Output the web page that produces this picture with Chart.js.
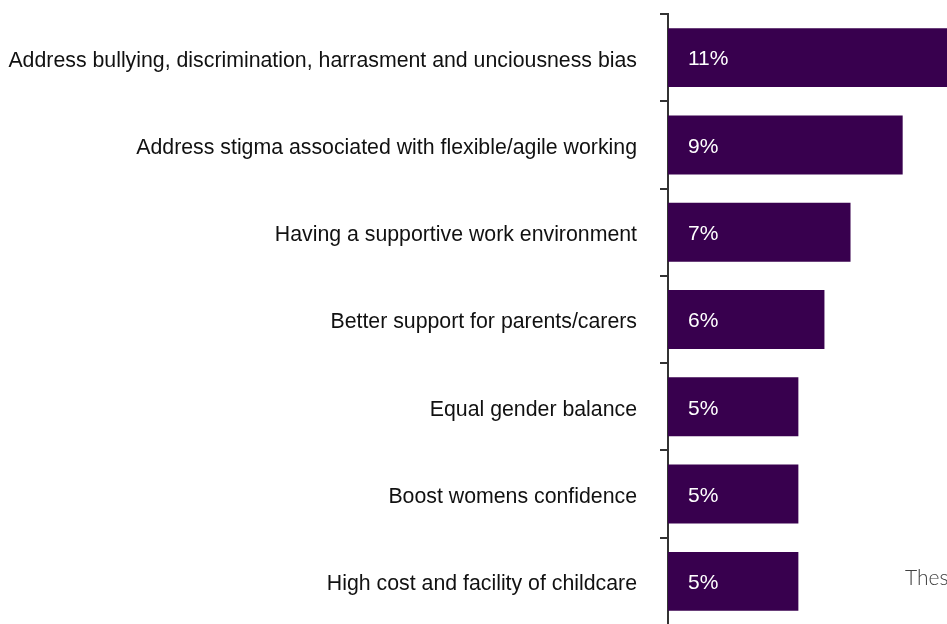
<!DOCTYPE html>
<html>
<head>
<meta charset="utf-8">
<script src="https://cdn.jsdelivr.net/npm/chart.js@4/dist/chart.umd.min.js"></script>
<style>
  html, body { margin: 0; padding: 0; background: #fff; overflow: hidden; }
  .wrap { position: relative; width: 947px; height: 624px; overflow: hidden; }
  #chart { position: absolute; left: 0; top: 0; }
  .note {
    position: absolute; left: 905px; top: 564px; white-space: nowrap;
    font-family: Lato, "Open Sans", sans-serif; font-weight: 300;
    font-size: 21px; color: #404040;
  }
</style>
</head>
<body>
<div class="wrap">
  <canvas id="chart" width="947" height="640"></canvas>
  <div class="note" id="note"></div>
</div>
<script>
// Top measures mentioned, share of responses (%)
const categories = [
    'Address bullying, discrimination, harrasment and unciousness bias',
    'Address stigma associated with flexible/agile working',
    'Having a supportive work environment',
    'Better support for parents/carers',
    'Equal gender balance',
    'Boost womens confidence',
    'High cost and facility of childcare'
];
const shares = [11, 9, 7, 6, 5, 5, 5];
const noteText = 'These';

const BAR_COLOR = '#38004e';
const AXIS_COLOR = '#333333';
const FONT = '"Liberation Sans", Arial, sans-serif';

document.getElementById('note').textContent = noteText;

// white percentage text just inside the start of each bar
const valueLabels = {
    id: 'valueLabels',
    afterDatasetsDraw(chart) {
        const ctx = chart.ctx;
        const meta = chart.getDatasetMeta(0);
        ctx.save();
        ctx.font = '21px ' + FONT;
        ctx.fillStyle = '#ffffff';
        ctx.textAlign = 'left';
        ctx.textBaseline = 'middle';
        meta.data.forEach((bar, i) => {
            ctx.fillText(shares[i] + '%', bar.base + 20, bar.y + 2);
        });
        ctx.restore();
    }
};

new Chart(document.getElementById('chart'), {
    type: 'bar',
    data: {
        labels: categories,
        datasets: [{
            data: shares,
            backgroundColor: BAR_COLOR,
            borderWidth: 0,
            categoryPercentage: 1,
            barPercentage: 0.675
        }]
    },
    options: {
        indexAxis: 'y',
        responsive: false,
        devicePixelRatio: 1,
        animation: false,
        layout: { padding: { top: 14, bottom: 15, left: 0, right: 0 } },
        plugins: {
            legend: { display: false },
            tooltip: { enabled: false }
        },
        scales: {
            x: {
                display: false,
                min: 0,
                max: 10.7
            },
            y: {
                // fixed axis width, and no extra room for the end labels
                afterFit(scale) {
                    scale.width = 668;
                    scale.paddingTop = 0;
                    scale.paddingBottom = 0;
                },
                grid: {
                    offset: true,
                    drawOnChartArea: false,
                    tickLength: 8,
                    lineWidth: 2,
                    color: AXIS_COLOR
                },
                border: { color: AXIS_COLOR, width: 2 },
                ticks: {
                    padding: 23,
                    labelOffset: 3,
                    color: '#111111',
                    font: { family: FONT, size: 21.3 }
                }
            }
        }
    },
    plugins: [valueLabels]
});
</script>
</body>
</html>
